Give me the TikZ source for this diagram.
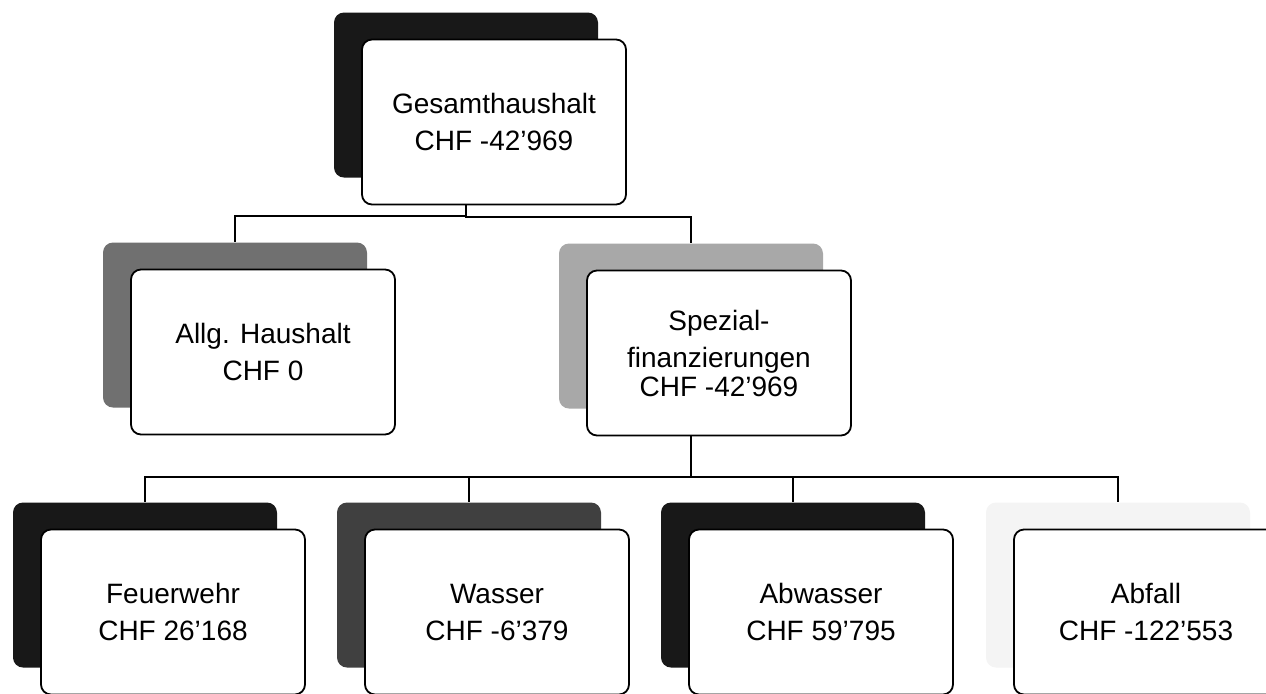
\documentclass[tikz,border=0pt]{standalone}
\usepackage{fontspec}
\setmainfont{Liberation Sans}
\usepackage{tikz}
\usetikzlibrary{positioning,backgrounds,calc}
\definecolor{shblack}{HTML}{181818}
\definecolor{shmid}{HTML}{707070}
\definecolor{shlight}{HTML}{A8A8A8}
\definecolor{shdark}{HTML}{404040}
\definecolor{shpale}{HTML}{F4F4F4}

\begin{document}
\begin{tikzpicture}[x=0.5pt,y=-0.5pt,
  shad/.style={rounded corners=5pt,minimum width=132pt,minimum height=82.5pt,inner sep=0pt},
  card/.style={draw=black,line width=0.9pt,fill=white,rounded corners=5pt,
               minimum width=132pt,minimum height=82.5pt,inner sep=0pt,align=center,
               font={\fontsize{14pt}{18.5pt}\selectfont}},
  conn/.style={draw=black,line width=0.9pt},
  front/.style={shift={(14pt,-13.5pt)}}
]
\path[use as bounding box] (0,0) rectangle (1266,693);

% back plates
\node[shad,fill=shblack] (ges-s)  at (466,95)  {};
\node[shad,fill=shmid]   (allg-s) at (235,325) {};
\node[shad,fill=shlight] (spez-s) at (691,326) {};
\node[shad,fill=shblack] (feu-s)  at (145,585) {};
\node[shad,fill=shdark]  (was-s)  at (469,585) {};
\node[shad,fill=shblack] (abw-s)  at (793,585) {};
\node[shad,fill=shpale]  (abf-s)  at (1118,585) {};

% cards
\node[card] (ges)  at ([front]ges-s.center)  {Gesamthaushalt\\CHF -42’969};
\node[card] (allg) at ([front]allg-s.center) {Allg. Haushalt\\CHF 0};
\node[card] (spez) at ([front]spez-s.center) {Spezial-\\finanzierungen\\[-4pt]CHF -42’969};
\node[card] (feu)  at ([front]feu-s.center)  {Feuerwehr\\CHF 26’168};
\node[card] (was)  at ([front]was-s.center)  {Wasser\\CHF -6’379};
\node[card] (abw)  at ([front]abw-s.center)  {Abwasser\\CHF 59’795};
\node[card] (abf)  at ([front]abf-s.center)  {Abfall\\CHF -122’553};

\begin{scope}[on background layer]
\fill[white] (0,0) rectangle (1266,693);
\foreach \c in {allg-s,spez-s}
  \draw[conn] (ges-s.south) |- ([yshift=13pt]\c.north) -- (\c.north);
\foreach \c in {feu-s,was-s,abw-s,abf-s}
  \draw[conn] (spez-s.south) |- ([yshift=12.5pt]\c.north) -- (\c.north);
\end{scope}
\end{tikzpicture}
\end{document}
